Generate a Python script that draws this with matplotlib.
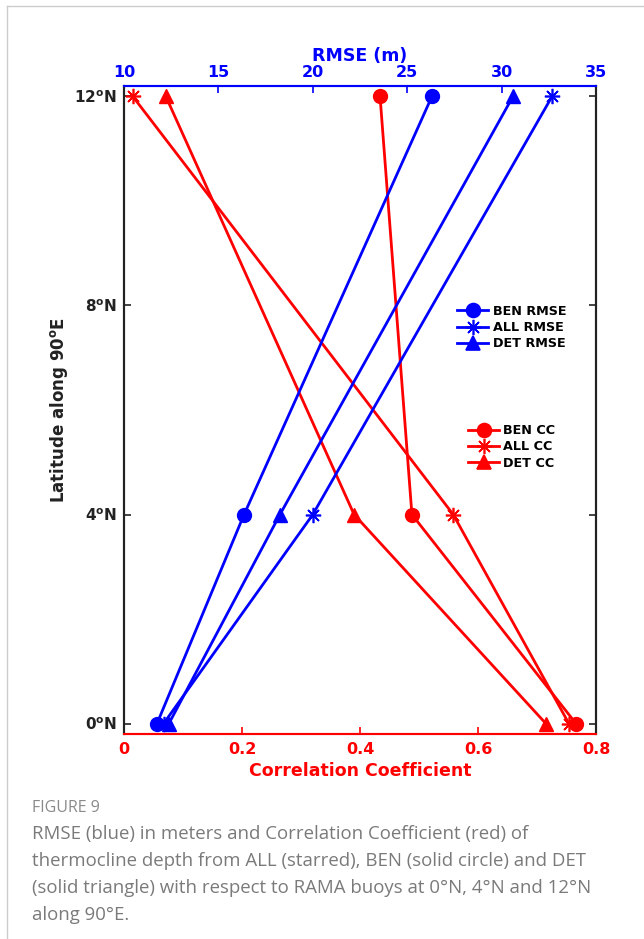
import matplotlib.pyplot as plt
from matplotlib.lines import Line2D

# latitudes of the RAMA buoys
lat = [0, 4, 12]
lat_labels = [r'0$^\mathbf{o}$N', r'4$^\mathbf{o}$N', r'8$^\mathbf{o}$N', r'12$^\mathbf{o}$N']
lat_ticks = [0, 4, 8, 12]

# correlation coefficient (bottom axis)
cc_ben = [0.766, 0.488, 0.434]
cc_all = [0.754, 0.558, 0.015]
cc_det = [0.715, 0.390, 0.071]

# RMSE in m (top axis)
rmse_ben = [11.75, 16.36, 26.31]
rmse_all = [12.1, 20.0, 32.67]
rmse_det = [12.38, 18.26, 30.6]

star = (8, 2, 0)

plt.rcParams['mathtext.fontset'] = 'dejavusans'

fig = plt.figure(figsize=(6.44, 9.39), dpi=100)
ax = fig.add_axes([0.1925, 0.2183, 0.733, 0.6901])
ax2 = ax.twiny()

lw = 2
ax.plot(cc_ben, lat, color='red', lw=lw, marker='o', ms=10)
ax.plot(cc_all, lat, color='red', lw=lw, marker=star, ms=11, mew=1.2)
ax.plot(cc_det, lat, color='red', lw=lw, marker='^', ms=10)

ax2.plot(rmse_ben, lat, color='blue', lw=lw, marker='o', ms=10)
ax2.plot(rmse_all, lat, color='blue', lw=lw, marker=star, ms=11, mew=1.2)
ax2.plot(rmse_det, lat, color='blue', lw=lw, marker='^', ms=10)

ax.set_xlim(0, 0.8)
ax.set_ylim(-0.2, 12.2)
ax2.set_xlim(10, 35)

ax.set_xticks([0, 0.2, 0.4, 0.6, 0.8])
ax.set_xticklabels(['0', '0.2', '0.4', '0.6', '0.8'])
ax2.set_xticks([10, 15, 20, 25, 30, 35])
ax.set_yticks(lat_ticks)
ax.set_yticklabels(lat_labels)

for lab in ax.get_xticklabels():
    lab.set_color('red'); lab.set_fontsize(11.5); lab.set_fontweight('bold')
for lab in ax2.get_xticklabels():
    lab.set_color('blue'); lab.set_fontsize(11.5); lab.set_fontweight('bold')
for lab in ax.get_yticklabels():
    lab.set_color('#222222'); lab.set_fontsize(11); lab.set_fontweight('bold')

ax.tick_params(axis='x', direction='in', colors='red', length=5, width=1.2, pad=6)
ax2.tick_params(axis='x', direction='in', colors='blue', length=5, width=1.2, pad=4)
ax.tick_params(axis='y', direction='in', colors='#222222', length=5, width=1.2,
               right=True, pad=5)

for a in (ax, ax2):
    a.spines['bottom'].set_color('red')
    a.spines['top'].set_color('blue')
    a.spines['left'].set_color('#222222')
    a.spines['right'].set_color('#222222')
    for s in a.spines.values():
        s.set_linewidth(1.5)

ax.set_xlabel('Correlation Coefficient', color='red', fontsize=12.5,
              fontweight='bold', labelpad=3)
ax2.set_xlabel('RMSE (m)', color='blue', fontsize=12.5, fontweight='bold', labelpad=3)
ax.set_ylabel(r'Latitude along 90$^\mathbf{o}$E', color='#222222', fontsize=12,
              fontweight='bold', labelpad=3)

# legends
def handle(col, mk, ms):
    return Line2D([], [], color=col, lw=lw, marker=mk, ms=ms, mew=1.2)

blue_h = [handle('blue', 'o', 10), handle('blue', star, 11), handle('blue', '^', 10)]
red_h = [handle('red', 'o', 10), handle('red', star, 11), handle('red', '^', 10)]
leg1 = ax2.legend(blue_h, ['BEN RMSE', 'ALL RMSE', 'DET RMSE'], frameon=False,
                  loc='upper left', bbox_to_anchor=(0.693, 0.672),
                  prop=dict(weight='bold', size=9.2), handlelength=2.4,
                  handletextpad=0.35, labelspacing=0.25, borderpad=0)
leg2 = ax2.legend(red_h, ['BEN CC', 'ALL CC', 'DET CC'], frameon=False,
                  loc='upper left', bbox_to_anchor=(0.716, 0.488),
                  prop=dict(weight='bold', size=9.2), handlelength=2.4,
                  handletextpad=0.35, labelspacing=0.25, borderpad=0)
ax2.add_artist(leg1)

# page frame lines
fig.add_artist(Line2D([7/644, 7/644], [0, 1 - 6/939], color='#cccccc', lw=1))
fig.add_artist(Line2D([7/644, 1], [1 - 6/939, 1 - 6/939], color='#cccccc', lw=1))

# caption
fig.text(32/644, 1 - 808/939, 'FIGURE 9', color='#8a8a8a', fontsize=11.5,
         family='Open Sans', va='center')
caption = ['RMSE (blue) in meters and Correlation Coefficient (red) of',
           'thermocline depth from ALL (starred), BEN (solid circle) and DET',
           '(solid triangle) with respect to RAMA buoys at 0°N, 4°N and 12°N',
           'along 90°E.']
for i, line in enumerate(caption):
    fig.text(32/644, 1 - (834 + 27 * i)/939, line, color='#7a7a7a', fontsize=13.4,
             family='Open Sans', va='center')

fig.savefig('out.png', dpi=100)
